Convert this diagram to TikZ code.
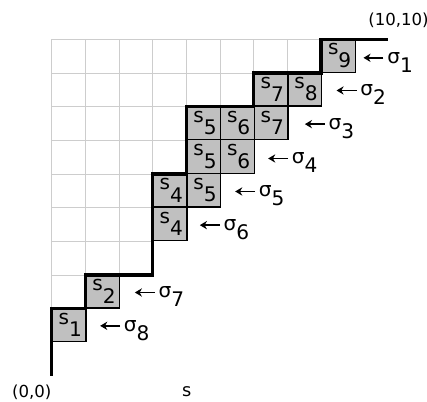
\documentclass[tikz,border=0pt]{standalone}
\usepackage{fontspec}
\setmainfont{DejaVu Sans}
\usetikzlibrary{arrows.meta,calc}
\definecolor{cellgray}{RGB}{192,192,192}
\definecolor{gridgray}{RGB}{205,205,205}
\newcommand{\cellsub}[1]{\raisebox{-1.5pt}{\kern2pt s\kern0pt\raisebox{-0.62em}{#1}}}
\newcommand{\sigsub}[1]{σ\raisebox{-0.45em}{#1}}
\begin{document}
\begin{tikzpicture}[x=1cm,y=1cm,
  gridline/.style={draw=gridgray, line width=0.7pt},
  cellbox/.style={draw=black, fill=cellgray, line width=1pt, minimum size=1cm, inner sep=0pt, anchor=south west, font=\fontsize{17}{17}\selectfont},
  boundary/.style={line width=3pt, line cap=butt, line join=miter},
  sig/.style={font=\fontsize{17}{17}\selectfont, inner sep=0pt, anchor=base west},
  arr/.style={-{Stealth[length=6pt,width=7pt]}, line width=1.6pt},
  corner/.style={font=\fontsize{14}{14}\selectfont, inner sep=0pt}]
\useasboundingbox (-1.535,-0.772) rectangle (11.147,11.167);
% light grid above the staircase
\foreach \c/\h in {0/2,1/3,2/3,3/6,4/8,5/8,6/9,7/9}
  \draw[gridline] (\c,\h) grid (\c+1,10);
% shaded cells
\node[cellbox] (c01) at (0,1) {\cellsub{1}};
\node[cellbox] (c12) at (1,2) {\cellsub{2}};
\node[cellbox] (c34) at (3,4) {\cellsub{4}};
\node[cellbox] (c35) at (3,5) {\cellsub{4}};
\node[cellbox] (c45) at (4,5) {\cellsub{5}};
\node[cellbox] (c46) at (4,6) {\cellsub{5}};
\node[cellbox] (c47) at (4,7) {\cellsub{5}};
\node[cellbox] (c56) at (5,6) {\cellsub{6}};
\node[cellbox] (c57) at (5,7) {\cellsub{6}};
\node[cellbox] (c67) at (6,7) {\cellsub{7}};
\node[cellbox] (c68) at (6,8) {\cellsub{7}};
\node[cellbox] (c78) at (7,8) {\cellsub{8}};
\node[cellbox] (c89) at (8,9) {\cellsub{9}};
% staircase boundary
\coordinate (o) at (0,0);
\coordinate (e) at (10,10);
\draw[boundary] (o) -- (0,2) -- (1,2) -- (1,3) -- (3,3) -- (3,6) -- (4,6) -- (4,8) -- (6,8) -- (6,9) -- (8,9) -- (8,10) -- (e);
% sigma labels
\foreach \i/\x/\y in {1/9.26/9.45, 2/8.46/8.48, 3/7.52/7.48, 4/6.43/6.46, 5/5.45/5.48, 6/4.40/4.48, 7/2.47/2.48, 8/1.44/1.49} {
  \coordinate (a\i) at (\x,\y);
  \node[sig] (g\i) at ($(a\i)+(0.70,-0.16)$) {\sigsub{\i}};
  \draw[arr] ([xshift=-3pt]g\i.west |- a\i) -- (a\i);
}
% corner labels
\node[corner] (lo) at (-0.594,-0.49) {(0,0)};
\node[corner] (le) at (10.30,10.57) {(10,10)};
\node[font=\fontsize{15}{15}\selectfont, inner sep=0pt] (ls) at (4.01,-0.48) {s};
\end{tikzpicture}
\end{document}
